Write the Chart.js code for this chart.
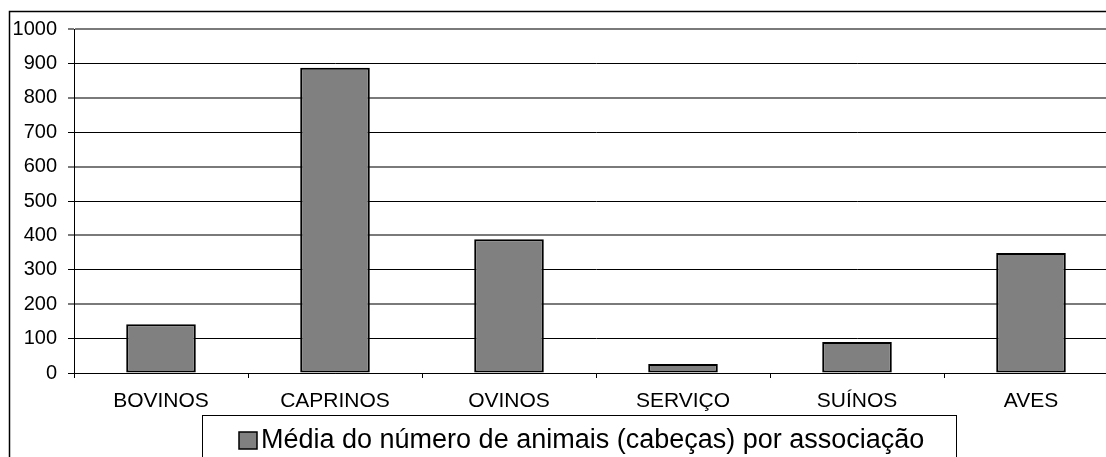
<!DOCTYPE html>
<html>
<head>
<meta charset="utf-8">
<script src="https://cdn.jsdelivr.net/npm/chart.js@4/dist/chart.umd.min.js"></script>
<style>
html,body{margin:0;padding:0;background:#fff;overflow:hidden;width:1106px;height:457px;}
#wrap{position:relative;width:1140px;height:457px;}
</style>
</head>
<body>
<div id="wrap"><canvas id="c" width="1140" height="457"></canvas></div>
<script>
const categories = ["BOVINOS", "CAPRINOS", "OVINOS", "SERVIÇO", "SUÍNOS", "AVES"];
const seriesLabel = "Média do número de animais (cabeças) por associação";
const seriesValues = [142, 887, 389, 26, 90, 349];
const yTicks = [0, 100, 200, 300, 400, 500, 600, 700, 800, 900, 1000];

const FONT = "'Liberation Sans', Arial, sans-serif";

const framePlugin = {
  id: 'frame',
  afterDraw(chart) {
    const ctx = chart.ctx;
    ctx.save();
    // outer chart border
    ctx.strokeStyle = '#000';
    ctx.lineWidth = 1.5;
    ctx.strokeRect(9.5, 11.5, 1200, 600);
    // legend box
    ctx.lineWidth = 1;
    ctx.fillStyle = '#fff';
    ctx.fillRect(202, 415, 754, 60);
    ctx.strokeRect(202.5, 415.5, 754, 60);
    // legend swatch
    ctx.fillStyle = '#808080';
    ctx.fillRect(239, 432, 18, 17);
    ctx.lineWidth = 1.5;
    ctx.strokeRect(239, 432, 18, 17);
    // legend text
    ctx.fillStyle = '#000';
    ctx.font = '27px ' + FONT;
    ctx.textBaseline = 'alphabetic';
    ctx.textAlign = 'left';
    ctx.fillText(chart.data.datasets[0].label, 261, 448);
    ctx.restore();
  }
};

new Chart(document.getElementById('c'), {
  type: 'bar',
  data: {
    labels: categories,
    datasets: [{
      label: seriesLabel,
      data: seriesValues,
      backgroundColor: '#808080',
      borderColor: '#000',
      borderWidth: 2,
      borderSkipped: false,
      barPercentage: 0.4,
      categoryPercentage: 1.0
    }]
  },
  options: {
    responsive: false,
    animation: false,
    devicePixelRatio: 1,
    layout: { padding: { left: 0, top: 29, right: 22, bottom: 0 } },
    plugins: { legend: { display: false }, tooltip: { enabled: false } },
    scales: {
      x: {
        afterFit(scale) { scale.height = 84; },
        grid: { drawOnChartArea: false, drawTicks: true, tickLength: 5, color: '#000', lineWidth: 1, offset: true },
        border: { display: true, color: '#000', width: 1 },
        ticks: { color: '#000', font: { family: FONT, size: 21 }, padding: 11, maxRotation: 0, autoSkip: false }
      },
      y: {
        min: 0, max: 1000,
        afterFit(scale) { scale.width = 74; },
        afterBuildTicks(scale) { scale.ticks = yTicks.map(v => ({ value: v })); },
        grid: {
          drawTicks: true, tickLength: 6,
          color: (c) => (c.tick && c.tick.value % 200 === 0 && c.tick.value !== 0) ? '#7a7a7a' : '#000',
          lineWidth: (c) => (c.tick && c.tick.value % 200 === 0 && c.tick.value !== 0) ? 2 : 1
        },
        border: { display: true, color: '#000', width: 1 },
        ticks: { color: '#000', font: { family: FONT, size: 20 }, padding: 11, callback: (v) => String(v) }
      }
    }
  },
  plugins: [framePlugin]
});
</script>
</body>
</html>
